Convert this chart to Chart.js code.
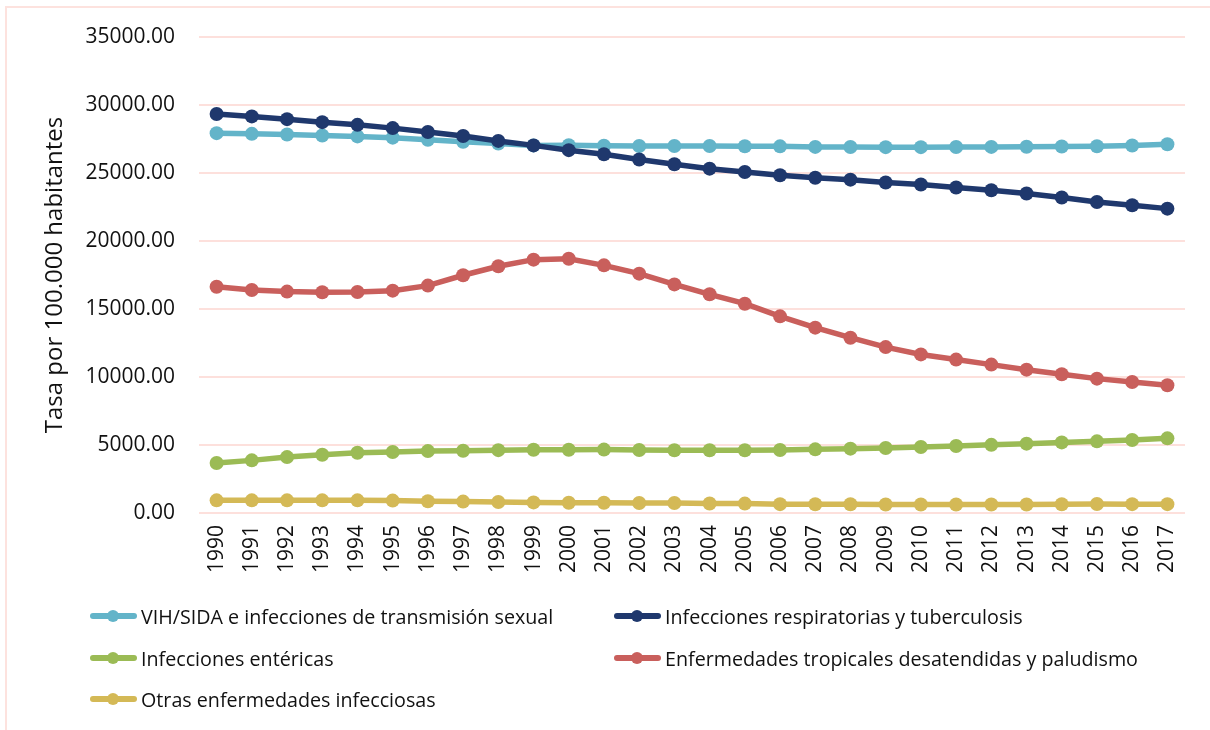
<!DOCTYPE html>
<html>
<head>
<meta charset="utf-8">
<script src="https://cdn.jsdelivr.net/npm/chart.js@4.4.1/dist/chart.umd.min.js"></script>
<style>
  html, body { margin: 0; padding: 0; background: #fff; overflow: hidden; }
  #wrap { position: relative; width: 1210px; height: 730px; }
  #frame { position: absolute; left: 5px; top: 6px; width: 1240px; height: 770px;
           border: 2px solid #fde2de; box-sizing: border-box; }
  #chart { position: absolute; left: 0; top: 0; }
  #legend { position: absolute; left: 0; top: 0; width: 1210px; height: 730px;
            font-family: 'Open Sans', sans-serif; font-size: 19.7px; color: #111; }
  .item { position: absolute; display: flex; align-items: center; height: 28px; white-space: nowrap; }
  .sw { position: relative; width: 47px; height: 28px; margin-right: 4px; }
  .sw .ln { position: absolute; left: 0; right: 0; top: 11px; height: 6px; border-radius: 3px; }
  .sw .dt { position: absolute; left: 17px; top: 8px; width: 12px; height: 12px; border-radius: 50%; }
</style>
</head>
<body>
<div id="wrap">
  <div id="frame"></div>
  <canvas id="chart" width="1210" height="730"></canvas>
  <div id="legend"></div>
</div>
<script>
// Years on the category axis
const years = ['1990','1991','1992','1993','1994','1995','1996','1997','1998','1999',
               '2000','2001','2002','2003','2004','2005','2006','2007','2008','2009',
               '2010','2011','2012','2013','2014','2015','2016','2017'];

// Rates per 100,000 inhabitants, by cause group
const vihSida = [27930, 27880, 27830, 27760, 27690, 27600, 27440, 27290, 27160, 27030,
                 27040, 27000, 26990, 26990, 26980, 26970, 26960, 26920, 26910, 26900,
                 26900, 26910, 26920, 26930, 26950, 26970, 27020, 27110];
const respiratorias = [29340, 29160, 28960, 28740, 28540, 28300, 28010, 27720, 27360, 27030,
                       26680, 26380, 25990, 25640, 25320, 25070, 24830, 24650, 24510, 24300,
                       24150, 23930, 23730, 23490, 23200, 22870, 22630, 22380];
const entericas = [3680, 3870, 4110, 4280, 4430, 4480, 4550, 4580, 4620, 4650,
                   4650, 4660, 4630, 4610, 4610, 4610, 4630, 4680, 4730, 4780,
                   4850, 4930, 5010, 5100, 5190, 5270, 5370, 5490];
const tropicales = [16640, 16400, 16280, 16230, 16250, 16350, 16720, 17480, 18140, 18630,
                    18700, 18210, 17600, 16810, 16080, 15390, 14460, 13630, 12890, 12200,
                    11660, 11280, 10910, 10540, 10200, 9880, 9630, 9390];
const otras = [930, 930, 930, 930, 930, 910, 860, 840, 810, 780,
               750, 750, 740, 730, 700, 690, 650, 640, 640, 620,
               620, 630, 630, 630, 640, 660, 650, 650];

// Y-axis tick range
const yMin = 0, yMax = 35000, yStep = 5000;

const FONT = "'Open Sans', sans-serif";
const TEXT = '#111111';

function series(label, values, color, order) {
  return {
    label, data: values, order,
    borderColor: color, backgroundColor: color,
    borderWidth: 5.5,
    pointRadius: 7, pointHoverRadius: 7,
    pointBackgroundColor: color, pointBorderColor: color, pointBorderWidth: 0,
    tension: 0, fill: false
  };
}

const datasets = [
  series('VIH/SIDA e infecciones de transmisión sexual', vihSida, '#63b4c9', 1),
  series('Infecciones respiratorias y tuberculosis', respiratorias, '#1f386d', 0),
  series('Infecciones entéricas', entericas, '#9bbb55', 2),
  series('Enfermedades tropicales desatendidas y paludismo', tropicales, '#c95f5c', 3),
  series('Otras enfermedades infecciosas', otras, '#d4b956', 4)
];

const chart = new Chart(document.getElementById('chart'), {
  type: 'line',
  data: { labels: years, datasets },
  options: {
    responsive: false,
    animation: false,
    events: [],
    layout: { padding: { top: 37, right: 25, left: 0, bottom: 0 } },
    plugins: { legend: { display: false }, tooltip: { enabled: false } },
    scales: {
      x: {
        offset: true,
        grid: { display: false, drawTicks: false },
        border: { display: false },
        ticks: {
          autoSkip: false, minRotation: 90, maxRotation: 90, padding: 12,
          color: TEXT, font: { family: FONT, size: 21 }
        },
        afterFit(s) { s.height = 217; }
      },
      y: {
        min: yMin, max: yMax,
        grid: { color: '#fde0dc', lineWidth: 2, drawTicks: false },
        border: { display: false },
        ticks: {
          stepSize: yStep, padding: 24,
          color: TEXT, font: { family: FONT, size: 21 },
          callback: v => Number(v).toFixed(2)
        },
        title: {
          display: true, text: 'Tasa por 100.000 habitantes',
          color: TEXT, font: { family: FONT, size: 24 },
          padding: { top: 41, bottom: 0 }
        },
        afterFit(s) { s.width = 199; }
      }
    }
  }
});

// Two-column legend below the plot, built from the datasets
const legendSlots = [
  { x: 90, y: 616 },  { x: 614, y: 616 },
  { x: 90, y: 658 },  { x: 614, y: 658 },
  { x: 90, y: 699 }
];
const legend = document.getElementById('legend');
chart.data.datasets.forEach((ds, i) => {
  const slot = legendSlots[i];
  const item = document.createElement('div');
  item.className = 'item';
  item.style.left = slot.x + 'px';
  item.style.top = (slot.y - 14) + 'px';
  const sw = document.createElement('div');
  sw.className = 'sw';
  const ln = document.createElement('div');
  ln.className = 'ln'; ln.style.background = ds.borderColor;
  const dt = document.createElement('div');
  dt.className = 'dt'; dt.style.background = ds.borderColor;
  sw.appendChild(ln); sw.appendChild(dt);
  const tx = document.createElement('span');
  tx.textContent = ds.label;
  item.appendChild(sw); item.appendChild(tx);
  legend.appendChild(item);
});
</script>
</body>
</html>
